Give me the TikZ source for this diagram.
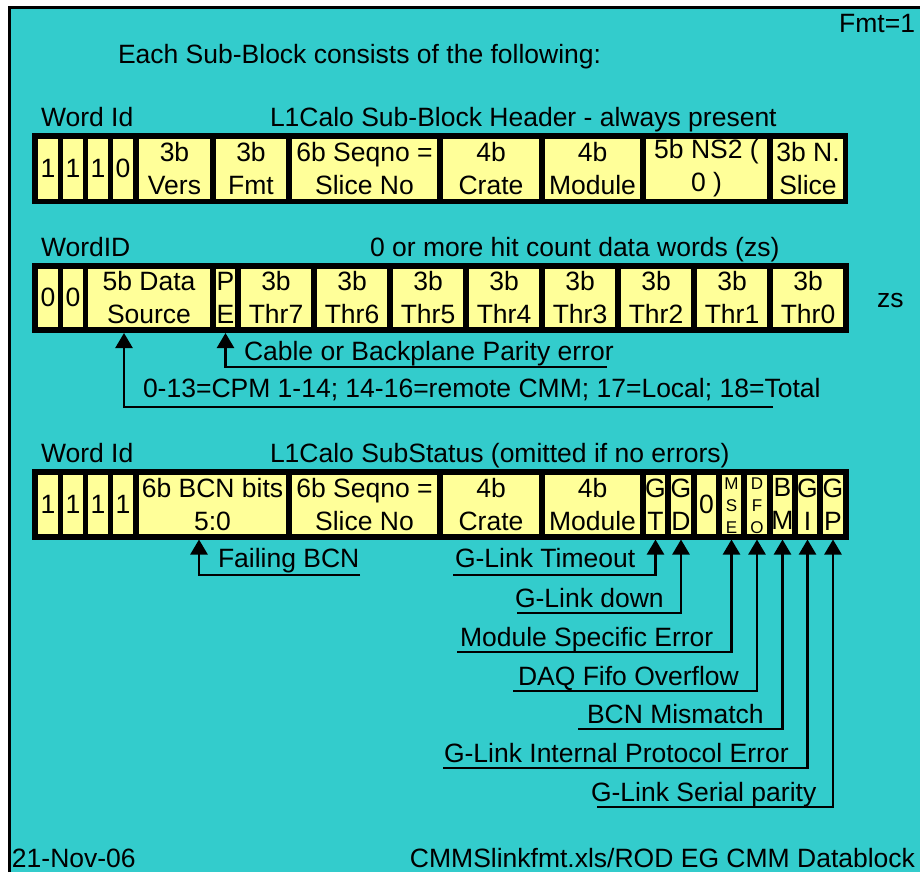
\documentclass[tikz,border=0pt]{standalone}
\usepackage{fontspec}
\setmainfont{Liberation Sans}
\usetikzlibrary{arrows.meta}
\definecolor{bgteal}{HTML}{33CCCC}
\definecolor{cellyel}{HTML}{FFFF99}
\newcommand{\cellbox}[7][]{\node[cell, #1, anchor=north west, minimum width={#4-#3}, minimum height={#6-#5}] (#2) at (#3,#5) {#7};}
\newcommand{\nb}[1]{\makebox[0pt]{#1}}
\begin{document}
\begin{tikzpicture}[x=1pt,y=-1pt,
  txt/.style={inner sep=0pt, outer sep=0pt, font=\fontsize{26.5}{33}\selectfont},
  barbox/.style={fill=black, inner sep=0pt, outer sep=0pt, anchor=north west},
  cell/.style={fill=cellyel, inner sep=0pt, outer sep=0pt, align=center, font=\fontsize{26.5}{33}\selectfont},
  smallletter/.style={inner sep=0pt, outer sep=0pt, anchor=center, font=\fontsize{17}{17}\selectfont},
  conn/.style={line width=2.4pt, -{Triangle[width=17pt,length=15pt]}},
  frameline/.style={line width=3pt}
]
\useasboundingbox (0,0) rectangle (920,872);
\fill[white] (0,0) rectangle (920,872);
\fill[bgteal] (8,6) rectangle (920,872);
\draw[frameline] (9.5,872) -- (9.5,7.5) -- (920,7.5);

% top texts
\node[txt, anchor=base east] (fmtlbl) at (915,33) {Fmt=1};
\node[txt, anchor=base west] (intro) at (118,64) {Each Sub-Block consists of the following:};

% ---------- Row 1: header ----------
\node[txt, anchor=base west] (wid1) at (41,126) {Word Id};
\node[txt, anchor=base west] (hdr1) at (270,126) {L1Calo Sub-Block Header - always present};
\node[barbox, minimum width=816, minimum height=71] (bar1) at (32,133) {};
\cellbox{ha}{38}{58}{138.5}{198.5}{1}
\cellbox{hb}{63}{83}{138.5}{198.5}{1}
\cellbox{hc}{88}{108}{138.5}{198.5}{1}
\cellbox{hd}{113}{133}{138.5}{198.5}{0}
\cellbox{vers}{139}{210}{138.5}{198.5}{3b\\Vers}
\cellbox{fmt}{216}{286}{138.5}{198.5}{3b\\Fmt}
\cellbox{seqa}{292}{437}{138.5}{198.5}{6b Seqno =\\Slice No}
\cellbox{cratea}{443}{539}{138.5}{198.5}{4b\\Crate}
\cellbox{moda}{545}{640}{138.5}{198.5}{4b\\Module}
\cellbox{nstwo}{646}{767}{138.5}{198.5}{5b NS2 (\\0 )}
\cellbox{nslice}{773}{843}{138.5}{198.5}{3b N.\\Slice}

% ---------- Row 2: hit count words ----------
\node[txt, anchor=base west] (wid2) at (41,256) {WordID};
\node[txt, anchor=base west] (hdr2) at (370,256) {0 or more hit count data words (zs)};
\node[barbox, minimum width=817, minimum height=70] (bar2) at (32,263) {};
\cellbox{wa}{38}{58}{268.5}{327}{0}
\cellbox{wb}{63}{83}{268.5}{327}{0}
\cellbox{ds}{88}{210}{268.5}{327}{5b Data\\Source}
\cellbox{pe}{216}{235}{268.5}{327}{\nb{P}\\\nb{E}}
\cellbox{tseven}{241}{311}{268.5}{327}{3b\\Thr7}
\cellbox{tsix}{317}{387}{268.5}{327}{3b\\Thr6}
\cellbox{tfive}{393}{463}{268.5}{327}{3b\\Thr5}
\cellbox{tfour}{469}{539}{268.5}{327}{3b\\Thr4}
\cellbox{tthree}{545}{615}{268.5}{327}{3b\\Thr3}
\cellbox{ttwo}{621}{691}{268.5}{327}{3b\\Thr2}
\cellbox{tone}{697}{767}{268.5}{327}{3b\\Thr1}
\cellbox{tzero}{773}{843}{268.5}{327}{3b\\Thr0}
\node[txt, anchor=base west] (zs) at (877,307) {zs};

\node[txt, anchor=base west] (cable) at (244,360) {Cable or Backplane Parity error};
\coordinate (lPE) at (607,367);
\draw[conn] (lPE) -| (pe.center |- bar2.south);
\node[txt, anchor=base west] (src) at (143,397) {0-13=CPM 1-14; 14-16=remote CMM; 17=Local; 18=Total};
\coordinate (lDS) at (773,407);
\coordinate (kDS) at (124,333);
\draw[conn] (lDS) -| (kDS);

% ---------- Row 3: sub status ----------
\node[txt, anchor=base west] (wid3) at (41,462) {Word Id};
\node[txt, anchor=base west] (hdr3) at (270,462) {L1Calo SubStatus (omitted if no errors)};
\node[barbox, minimum width=817, minimum height=70.5] (bar3) at (32,469) {};
\cellbox{sa}{38}{58}{475}{533.5}{1}
\cellbox{sb}{63}{83}{475}{533.5}{1}
\cellbox{sc}{88}{108}{475}{533.5}{1}
\cellbox{sd}{113}{133}{475}{533.5}{1}
\cellbox{bcn}{139}{286}{475}{533.5}{6b BCN bits\\5:0}
\cellbox{seqc}{292}{437}{475}{533.5}{6b Seqno =\\Slice No}
\cellbox{cratec}{443}{539}{475}{533.5}{4b\\Crate}
\cellbox{modc}{545}{640}{475}{533.5}{4b\\Module}
\cellbox{gt}{646}{665}{475}{533.5}{\nb{G}\\\nb{T}}
\cellbox{gd}{671}{691}{475}{533.5}{\nb{G}\\\nb{D}}
\cellbox{zc}{697}{716}{475}{533.5}{0}
\cellbox{msec}{722}{741}{475}{533.5}{}
\cellbox{dfoc}{747}{767}{475}{533.5}{}
\cellbox{bm}{773}{792}{475}{533.5}{\nb{B}\\\nb{M}}
\cellbox{gi}{798}{817}{475}{533.5}{\nb{G}\\\nb{I}}
\cellbox{gp}{823}{843}{475}{533.5}{\nb{G}\\\nb{P}}
\node[smallletter] (mseM) at (msec.center |- 0,484) {M};
\node[smallletter] (mseS) at (msec.center |- 0,506) {S};
\node[smallletter] (mseE) at (msec.center |- 0,528) {E};
\node[smallletter] (dfoD) at (dfoc.center |- 0,484) {D};
\node[smallletter] (dfoF) at (dfoc.center |- 0,506) {F};
\node[smallletter] (dfoO) at (dfoc.center |- 0,528) {O};

\node[txt, anchor=base west] (failbcn) at (218,567) {Failing BCN};
\coordinate (lBCN) at (360,575);
\coordinate (kBCN) at (199,539.5);
\draw[conn] (lBCN) -| (kBCN);

\node[txt, anchor=base west] (gto) at (455,567) {G-Link Timeout};
\coordinate (lGT) at (453,575);
\draw[conn] (lGT) -| (gt.center |- bar3.south);

\node[txt, anchor=base west] (gdn) at (515,607) {G-Link down};
\coordinate (lGD) at (517,613);
\draw[conn] (lGD) -| (gd.center |- bar3.south);

\node[txt, anchor=base west] (mse) at (460,646) {Module Specific Error};
\coordinate (lMSE) at (457,652);
\draw[conn] (lMSE) -| (msec.center |- bar3.south);

\node[txt, anchor=base west] (dfo) at (518,685) {DAQ Fifo Overflow};
\coordinate (lDFO) at (513,691);
\draw[conn] (lDFO) -| (dfoc.center |- bar3.south);

\node[txt, anchor=base west] (bcnm) at (587,723) {BCN Mismatch};
\coordinate (lBM) at (578,729);
\draw[conn] (lBM) -| (bm.center |- bar3.south);

\node[txt, anchor=base west] (gip) at (444,762) {G-Link Internal Protocol Error};
\coordinate (lGI) at (443,768);
\draw[conn] (lGI) -| (gi.center |- bar3.south);

\node[txt, anchor=base west] (gsp) at (591,801) {G-Link Serial parity};
\coordinate (lGP) at (597,807);
\draw[conn] (lGP) -| (gp.center |- bar3.south);

% footer
\node[txt, anchor=base west] (date) at (12,867) {21-Nov-06};
\node[txt, anchor=base east] (file) at (915,867) {CMMSlinkfmt.xls/ROD EG CMM Datablock};
\end{tikzpicture}
\end{document}
